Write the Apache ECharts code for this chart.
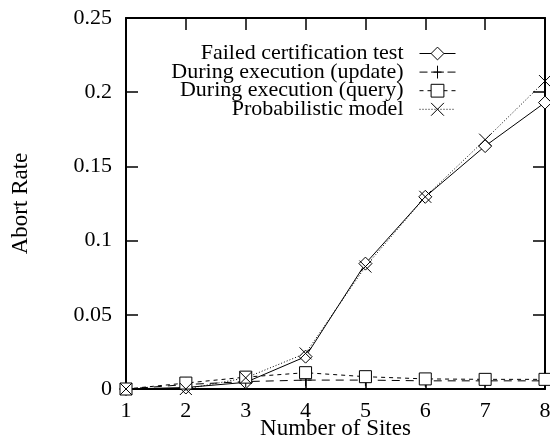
<!DOCTYPE html>
<html>
<head>
<meta charset="utf-8">
<script src="https://cdn.jsdelivr.net/npm/echarts@6/dist/echarts.min.js"></script>
<style>
  html, body { margin: 0; padding: 0; background: #fff; }
  #chart { width: 550px; height: 437px; }
</style>
</head>
<body>
<div id="chart"></div>
<script>
// Abort rate against number of sites
const sites = [1, 2, 3, 4, 5, 6, 7, 8];
const failedCertification = [0, 0.001, 0.0045, 0.0218, 0.0845, 0.1295, 0.1637, 0.193];
const duringUpdate = [0, 0.003, 0.005, 0.006, 0.006, 0.0055, 0.0055, 0.0055];
const duringQuery = [0, 0.004, 0.008, 0.011, 0.0083, 0.0068, 0.0065, 0.0065];
const probabilistic = [0, 0, 0.0075, 0.024, 0.0825, 0.1295, 0.168, 0.2075];

const seriesNames = [
  'Failed certification test',
  'During execution (update)',
  'During execution (query)',
  'Probabilistic model'
];

const FONT = 'Liberation Serif';
const PLUS = 'path://M0,-1L0,1M-1,0L1,0';
const CROSS = 'path://M-1,-1L1,1M-1,1L1,-1';

function pairs(values) {
  return sites.map((s, i) => [s, values[i]]);
}

function lineSeries(name, values, symbol, size, dash, hollow) {
  return {
    name: name,
    type: 'line',
    data: pairs(values),
    symbol: symbol,
    symbolSize: size,
    showAllSymbol: true,
    color: '#000',
    lineStyle: { color: '#000', width: 1, type: dash },
    itemStyle: hollow
      ? { color: '#fff', borderColor: '#000', borderWidth: 1 }
      : { color: '#000', borderColor: '#000', borderWidth: 1 },
    emphasis: { disabled: true },
    animation: false,
    z: 3
  };
}

const chart = echarts.init(document.getElementById('chart'), null, { renderer: 'canvas' });

const tickStyle = { show: true, inside: true, length: 12, lineStyle: { color: '#000', width: 1.5 } };
const lineAxis = { show: true, onZero: false, lineStyle: { color: '#000', width: 2 } };

chart.setOption({
  backgroundColor: '#fff',
  animation: false,
  textStyle: { fontFamily: FONT, color: '#000' },
  grid: { left: 126, right: 5, top: 18, bottom: 48, containLabel: false, outerBoundsMode: 'none' },
  legend: {
    data: seriesNames,
    orient: 'vertical',
    align: 'right',
    right: 89,
    top: 37.5,
    itemWidth: 36,
    itemHeight: 16,
    itemGap: -3.4,
    selectedMode: false,
    formatter: (name) => name + '  ',
    lineStyle: { width: 1 },
    itemStyle: { borderWidth: 1 },
    textStyle: { fontFamily: FONT, fontSize: 22, color: '#000' }
  },
  xAxis: [
    {
      type: 'value', min: 1, max: 8, interval: 1, position: 'bottom',
      name: 'Number of Sites', nameLocation: 'middle', nameGap: 28,
      nameMoveOverlap: false,
      nameTextStyle: { fontFamily: FONT, fontSize: 23, color: '#000' },
      axisLine: lineAxis, axisTick: tickStyle,
      axisLabel: { fontFamily: FONT, fontSize: 22, color: '#000', margin: 11 },
      splitLine: { show: false }
    },
    {
      type: 'value', min: 1, max: 8, interval: 1, position: 'top',
      axisLine: lineAxis, axisTick: tickStyle,
      axisLabel: { show: false }, splitLine: { show: false }
    }
  ],
  yAxis: [
    {
      type: 'value', min: 0, max: 0.25, interval: 0.05, position: 'left',
      name: 'Abort Rate', nameLocation: 'middle', nameGap: 94,
      nameMoveOverlap: false,
      nameTextStyle: { fontFamily: FONT, fontSize: 23, color: '#000' },
      axisLine: lineAxis, axisTick: tickStyle,
      axisLabel: { fontFamily: FONT, fontSize: 22, color: '#000', margin: 14 },
      splitLine: { show: false }
    },
    {
      type: 'value', min: 0, max: 0.25, interval: 0.05, position: 'right',
      axisLine: lineAxis, axisTick: tickStyle,
      axisLabel: { show: false }, splitLine: { show: false }
    }
  ],
  series: [
    lineSeries(seriesNames[0], failedCertification, 'diamond', 13, 'solid', true),
    lineSeries(seriesNames[1], duringUpdate, PLUS, 12, [8, 6], false),
    lineSeries(seriesNames[2], duringQuery, 'rect', 12, [4, 4], true),
    lineSeries(seriesNames[3], probabilistic, CROSS, 12, [1, 2], false)
  ]
});
</script>
</body>
</html>
